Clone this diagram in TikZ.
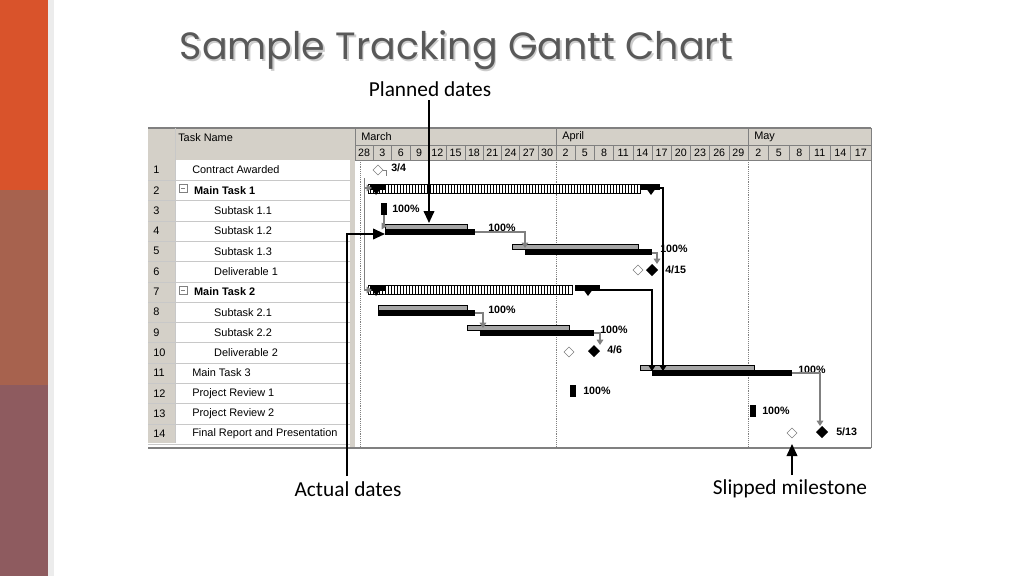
\documentclass[tikz,border=0pt]{standalone}
\usepackage{fontspec}
\setmainfont{Liberation Sans}
\newfontfamily\titlefont{Poppins}
\newfontfamily\notefont{Carlito}
\usepackage{tikz}
\usetikzlibrary{arrows.meta}
\definecolor{rustA}{HTML}{D9532B}
\definecolor{rustB}{HTML}{A7624E}
\definecolor{rustC}{HTML}{8E5B5F}
\definecolor{headgray}{HTML}{D4D0C8}
\definecolor{gridgray}{HTML}{C8C8C8}
\definecolor{linkgray}{HTML}{808080}

\tikzset{
  cell/.style={font=\fontsize{8.2}{9}\selectfont,anchor=west,inner sep=0pt},
  pct/.style={font=\fontsize{8}{9}\selectfont\bfseries,anchor=west,inner sep=0pt},
  link/.style={draw=linkgray,line width=0.8pt,-{Triangle[length=4pt,width=5pt]}},
  note/.style={font=\notefont\fontsize{16}{18}\selectfont,inner sep=0pt},
  callout/.style={line width=1.3pt,-{Triangle[length=9pt,width=8pt]}},
}

\begin{document}
\begin{tikzpicture}[x=0.75pt,y=-0.75pt]
  \useasboundingbox (0,0) rectangle (1024,576);
  % side band -----------------------------------------------------------------
  \fill[rustA] (0,0) rectangle (48,190);
  \fill[rustB] (0,190) rectangle (48,385);
  \fill[rustC] (0,385) rectangle (48,576);
  \fill[gray!15] (48,0) rectangle (54,576);

  % title ---------------------------------------------------------------------
  \node[anchor=west,text=gray!40,font=\titlefont\fontsize{28.5}{32}\selectfont] at (176.5,52) {Sample Tracking Gantt Chart};
  \node[anchor=west,text=black!65,font=\titlefont\fontsize{28.5}{32}\selectfont] (title) at (175,50) {Sample Tracking Gantt Chart};

  % table frame ---------------------------------------------------------------
  \fill[headgray] (148,128) rectangle (871,160);
  \fill[headgray] (148,160) rectangle (175,443);
  \fill[headgray] (350,128) rectangle (355,448);
  \draw[line width=1.2pt,gray] (148,128) -- (871,128);
  \draw[line width=1.2pt,gray] (148,448) -- (871,448);
  \draw[gray] (871,128) -- (871,448);
  \foreach \i in {1,...,14}
    \draw[gridgray] (148,{160+\i*20.3}) -- (350,{160+\i*20.3});
  \draw[gridgray] (175,128) -- (175,443);
  \node[cell] at (178,138) {Task Name};

  % time scale ----------------------------------------------------------------
  \draw[gray] (355,145) -- (871,145) (355,160) -- (871,160);
  \foreach \d [count=\i from 0] in {28,3,6,9,12,15,18,21,24,27,30}
    \draw[gray] ({355+\i*18.3},145) rectangle ({355+(\i+1)*18.3},160)
      node[midway,text=black,font=\fontsize{8}{9}\selectfont] {\d};
  \foreach \d [count=\i from 0] in {2,5,8,11,14,17,20,23,26,29}
    \draw[gray] ({556+\i*19.2},145) rectangle ({556+(\i+1)*19.2},160)
      node[midway,text=black,font=\fontsize{8}{9}\selectfont] {\d};
  \foreach \d [count=\i from 0] in {2,5,8,11,14,17}
    \draw[gray] ({748+\i*20.5},145) rectangle ({748+(\i+1)*20.5},160)
      node[midway,text=black,font=\fontsize{8}{9}\selectfont] {\d};
  \foreach \m/\x in {March/355,April/556,May/748} {
    \draw[gray] (\x,128) -- (\x,145);
    \node[cell] at ({\x+6},137) {\m};
  }
  \foreach \x in {360,556,748}
    \draw[densely dotted,gray] (\x,160) -- (\x,448);

  % task names ----------------------------------------------------------------
  \foreach \t [count=\i] in {Contract Awarded,{\,\bfseries Main Task 1},{\quad\quad Subtask 1.1},
      {\quad\quad Subtask 1.2},{\quad\quad Subtask 1.3},{\quad\quad Deliverable 1},
      {\,\bfseries Main Task 2},{\quad\quad Subtask 2.1},{\quad\quad Subtask 2.2},
      {\quad\quad Deliverable 2},Main Task 3,Project Review 1,Project Review 2,
      Final Report and Presentation} {
    \node[cell] at (153,{170+(\i-1)*20.3}) {\i};
    \node[cell] at (192,{170+(\i-1)*20.3}) {\t};
  }
  \foreach \y in {188.3,289.8}
    \draw[gray] (179,{\y-4}) rectangle (187,{\y+4}) (181,\y) -- (185,\y);

  % summary bars --------------------------------------------------------------
  \draw[black,line width=0.3pt] (368,184) rectangle (640,193);
  \foreach \x in {370,373,...,638} \draw[black,line width=0.4pt] (\x,184) -- (\x,193);
  \fill (370,184) rectangle (385,190);
  \fill (376,195) -- (370,184) -- (384,184) -- cycle;
  \fill (640,184) rectangle (660,190);
  \fill (651,195) -- (643,184) -- (659,184) -- cycle;
  \draw[black,line width=0.3pt] (368,285) rectangle (572,294);
  \foreach \x in {370,373,...,570} \draw[black,line width=0.4pt] (\x,285) -- (\x,294);
  \fill (370,285) rectangle (385,291);
  \fill (376,296) -- (370,285) -- (384,285) -- cycle;
  \fill (575,285) rectangle (600,291);
  \fill (588,296) -- (580,285) -- (596,285) -- cycle;

  % task bars -----------------------------------------------------------------
  \foreach \ps/\pe/\as/\ae/\y in {385/467/385/475/229,512/638/525/652/249,
      378/467/378/475/310,467/569/480/594/330,640/754/652/792/370} {
    \fill[gray!70] (\ps,{\y-5}) rectangle (\pe,\y);
    \draw[line width=0.3pt] (\ps,{\y-5}) rectangle (\pe,\y);
    \fill (\as,\y) rectangle (\ae,{\y+6});
  }
  \foreach \x/\y in {381/209,570/391,750/411}
    \fill (\x,{\y-6}) rectangle ({\x+6},{\y+6});
  \foreach \x/\y in {392/209,488/228,660/249,488/310,600/330,798/370,583/391,762/411}
    \node[pct] at (\x,\y) {100\%};

  % milestones ----------------------------------------------------------------
  \foreach \x/\y in {378/170,638/270,569/352,792/433}
    \draw[gray,fill=white] (\x,{\y-5}) -- ({\x+5},\y) -- (\x,{\y+5}) -- ({\x-5},\y) -- cycle;
  \foreach \x/\y in {652/270,594/351,822/432}
    \fill (\x,{\y-6}) -- ({\x+6},\y) -- (\x,{\y+6}) -- ({\x-6},\y) -- cycle;
  \node[pct] at (391,168) {3/4};
  \node[pct] at (665,270) {4/15};
  \node[pct] at (607,350) {4/6};
  \node[pct] at (836,432) {5/13};

  % links ---------------------------------------------------------------------
  \draw[gray] (383,170) -- (386,170) -- (386,176);
  \draw[gray] (364,178) -- (364,290);
  \draw[link] (364,188) -- (372,188);
  \draw[link] (364,290) -- (372,290);
  \draw[link] (384,215) -- (384,226) -- (387,226);
  \draw[link] (475,232) -- (525,232) -- (525,248);
  \draw[link] (652,253) -- (657,253) -- (657,264);
  \draw[link] (475,313) -- (483,313) -- (483,328);
  \draw[link] (594,333) -- (600,333) -- (600,345);
  \draw[link] (792,373) -- (820,373) -- (820,426);
  \draw[line width=0.8pt,-{Triangle[length=4pt,width=5pt]}] (660,188) -- (663,188) -- (663,371);
  \draw[line width=0.8pt,-{Triangle[length=4pt,width=5pt]}] (600,290) -- (652,290) -- (652,371);

  % callouts ------------------------------------------------------------------
  \node[note] (planned) at (430,89) {Planned dates};
  \node[note] (actual) at (348,489) {Actual dates};
  \node[note] (slipped) at (790,489) {Slipped milestone};
  \draw[callout] (429,100) -- (429,223);
  \draw[callout] (347,476) -- (347,234) -- (385,234);
  \draw[callout] (792,475) -- (792,444);
\end{tikzpicture}
\end{document}
